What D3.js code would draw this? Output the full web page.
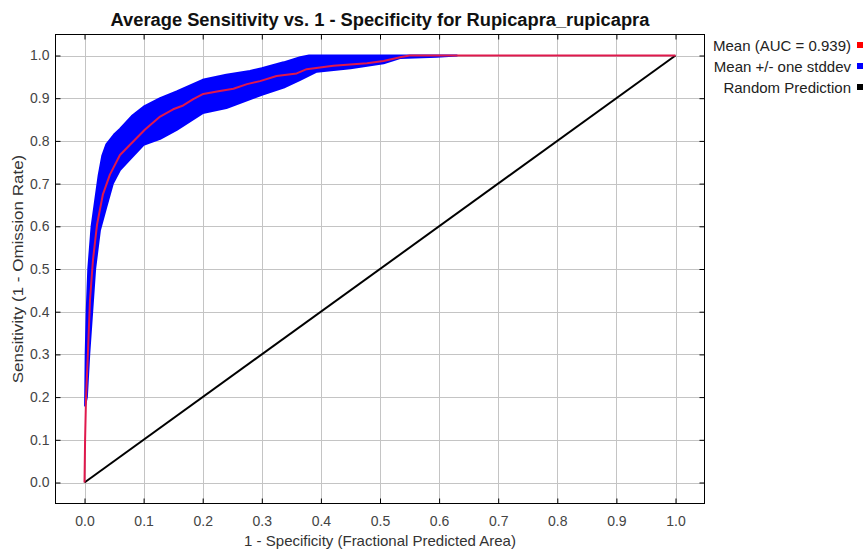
<!DOCTYPE html>
<html>
<head>
<meta charset="utf-8">
<script src="https://cdn.jsdelivr.net/npm/d3@7"></script>
<style>
  html, body { margin: 0; padding: 0; background: #ffffff; }
  text { font-family: "Liberation Sans", Arial, sans-serif; }
</style>
</head>
<body>
<svg id="chart" width="867" height="550"></svg>
<script>
// ---- data ----
const chartTitle = "Average Sensitivity vs. 1 - Specificity for Rupicapra_rupicapra";
const xAxisLabel = "1 - Specificity (Fractional Predicted Area)";
const yAxisLabel = "Sensitivity (1 - Omission Rate)";
const tickValues = [0, 0.1, 0.2, 0.3, 0.4, 0.5, 0.6, 0.7, 0.8, 0.9, 1.0];
const tickLabels = ["0.0", "0.1", "0.2", "0.3", "0.4", "0.5", "0.6", "0.7", "0.8", "0.9", "1.0"];

const legendLabels = ["Mean (AUC = 0.939)", "Mean +/- one stddev", "Random Prediction"];
const legendColors = ["#ff0000", "#0000ff", "#000000"];

// mean ROC curve
const meanX = [0, 0.001, 0.0025, 0.006, 0.0093, 0.0144, 0.0212, 0.031, 0.043, 0.060, 0.077, 0.102, 0.128, 0.150, 0.167, 0.184, 0.201, 0.229, 0.252, 0.275, 0.297, 0.325, 0.359, 0.376, 0.421, 0.478, 0.506, 0.534, 0.55, 1.0];
const meanY = [0, 0.10, 0.194, 0.311, 0.428, 0.522, 0.604, 0.674, 0.721, 0.767, 0.791, 0.826, 0.857, 0.874, 0.883, 0.898, 0.910, 0.917, 0.922, 0.933, 0.940, 0.952, 0.958, 0.968, 0.976, 0.982, 0.987, 0.996, 1.0, 1.0];

// upper edge of the +/- one stddev band
const upperX = [0.001, 0.002, 0.0037, 0.0064, 0.012, 0.018, 0.024, 0.030, 0.037, 0.050, 0.060, 0.080, 0.100, 0.128, 0.156, 0.200, 0.240, 0.280, 0.300, 0.337, 0.365, 0.380, 0.630];
const upperY = [0.18, 0.30, 0.40, 0.50, 0.60, 0.66, 0.72, 0.765, 0.792, 0.815, 0.828, 0.858, 0.880, 0.900, 0.916, 0.943, 0.955, 0.964, 0.970, 0.984, 0.996, 1.0, 1.0];

// lower edge of the +/- one stddev band
const lowerX = [0.004, 0.008, 0.013, 0.018, 0.026, 0.037, 0.048, 0.060, 0.071, 0.100, 0.128, 0.156, 0.200, 0.240, 0.300, 0.337, 0.365, 0.393, 0.450, 0.506, 0.534, 0.596, 0.630];
const lowerY = [0.20, 0.30, 0.40, 0.50, 0.59, 0.646, 0.700, 0.732, 0.748, 0.791, 0.805, 0.826, 0.865, 0.877, 0.908, 0.925, 0.943, 0.962, 0.970, 0.982, 0.994, 0.997, 1.0];

// random prediction diagonal
const randomX = [0, 1];
const randomY = [0, 1];

// ---- layout ----
const svg = d3.select("#chart");
const frame = { left: 55.5, right: 704.5, top: 34.5, bottom: 503.5 };

const x = d3.scaleLinear().domain([0, 1]).range([84.5, 675.5]);
const y = d3.scaleLinear().domain([0, 1]).range([482.5, 55.5]);

// gridlines
const grid = svg.append("g");
grid.selectAll("line.vx").data(tickValues).enter().append("line")
  .attr("x1", d => Math.round(x(d)) + 0.5).attr("x2", d => Math.round(x(d)) + 0.5)
  .attr("y1", frame.top).attr("y2", frame.bottom)
  .attr("stroke", "#c4c4c4").attr("stroke-width", 1);
grid.selectAll("line.hy").data(tickValues).enter().append("line")
  .attr("y1", d => Math.round(y(d)) + 0.5).attr("y2", d => Math.round(y(d)) + 0.5)
  .attr("x1", frame.left).attr("x2", frame.right)
  .attr("stroke", "#c4c4c4").attr("stroke-width", 1);

// band polygon
const bandPts = upperX.map((v, i) => [v, upperY[i]])
  .concat(lowerX.map((v, i) => [v, lowerY[i]]).reverse());
svg.append("path")
  .attr("d", d3.line().x(d => x(d[0])).y(d => y(d[1]))(bandPts) + "Z")
  .attr("fill", "#0000ff").attr("stroke", "#0000ff").attr("stroke-width", 2)
  .attr("stroke-linejoin", "round");

// random prediction
svg.append("path")
  .attr("d", d3.line().x(d => x(d[0])).y(d => y(d[1]))(randomX.map((v, i) => [v, randomY[i]])))
  .attr("fill", "none").attr("stroke", "#000000").attr("stroke-width", 2);

// mean curve
svg.append("path")
  .attr("d", d3.line().x(d => x(d[0])).y(d => y(d[1]))(meanX.map((v, i) => [v, meanY[i]])))
  .attr("fill", "none").attr("stroke", "#e0184c").attr("stroke-width", 2)
  .attr("stroke-linejoin", "round");

// frame
svg.append("rect")
  .attr("x", frame.left).attr("y", frame.top)
  .attr("width", frame.right - frame.left).attr("height", frame.bottom - frame.top)
  .attr("fill", "none").attr("stroke", "#000000").attr("stroke-width", 1);

// axes with inner ticks
const tickFmt = (d, i) => tickLabels[i];
const axB = d3.axisBottom(x).tickValues(tickValues).tickFormat(tickFmt).tickSizeInner(-5).tickSizeOuter(0).tickPadding(13);
const axT = d3.axisTop(x).tickValues(tickValues).tickFormat("").tickSizeInner(-5).tickSizeOuter(0);
const axL = d3.axisLeft(y).tickValues(tickValues).tickFormat(tickFmt).tickSizeInner(-5).tickSizeOuter(0).tickPadding(6);
const axR = d3.axisRight(y).tickValues(tickValues).tickFormat("").tickSizeInner(-5).tickSizeOuter(0);

function styleAxis(g) {
  g.select(".domain").remove();
  g.selectAll(".tick line").attr("stroke", "#000");
  g.selectAll(".tick text").attr("fill", "#444").attr("font-size", 14)
    .attr("font-family", "'Liberation Sans', Arial, sans-serif");
}
svg.append("g").attr("transform", `translate(0,${frame.bottom})`).call(axB).call(styleAxis);
svg.append("g").attr("transform", `translate(0,${frame.top})`).call(axT).call(styleAxis);
svg.append("g").attr("transform", `translate(${frame.left},0)`).call(axL).call(styleAxis);
svg.append("g").attr("transform", `translate(${frame.right},0)`).call(axR).call(styleAxis);

// title
svg.append("text").attr("x", (frame.left + frame.right) / 2).attr("y", 26)
  .attr("text-anchor", "middle").attr("font-weight", "bold").attr("font-size", 18.3)
  .attr("fill", "#111").text(chartTitle);

// axis labels
svg.append("text").attr("x", (frame.left + frame.right) / 2).attr("y", 546)
  .attr("text-anchor", "middle").attr("font-size", 15).attr("fill", "#333").text(xAxisLabel);
svg.append("text").attr("transform", `translate(23,${(frame.top + frame.bottom) / 2}) scale(0.85,1) rotate(-90)`)
  .attr("text-anchor", "middle").attr("font-size", 17).attr("fill", "#333").text(yAxisLabel);

// legend
const leg = svg.append("g");
legendLabels.forEach((lab, i) => {
  const cy = 46 + i * 21;
  leg.append("text").attr("x", 851).attr("y", cy + 5)
    .attr("text-anchor", "end").attr("font-size", 15).attr("fill", "#222").text(lab);
  leg.append("rect").attr("x", 857).attr("y", cy - 4).attr("width", 6).attr("height", 6)
    .attr("fill", legendColors[i]);
});
</script>
</body>
</html>
